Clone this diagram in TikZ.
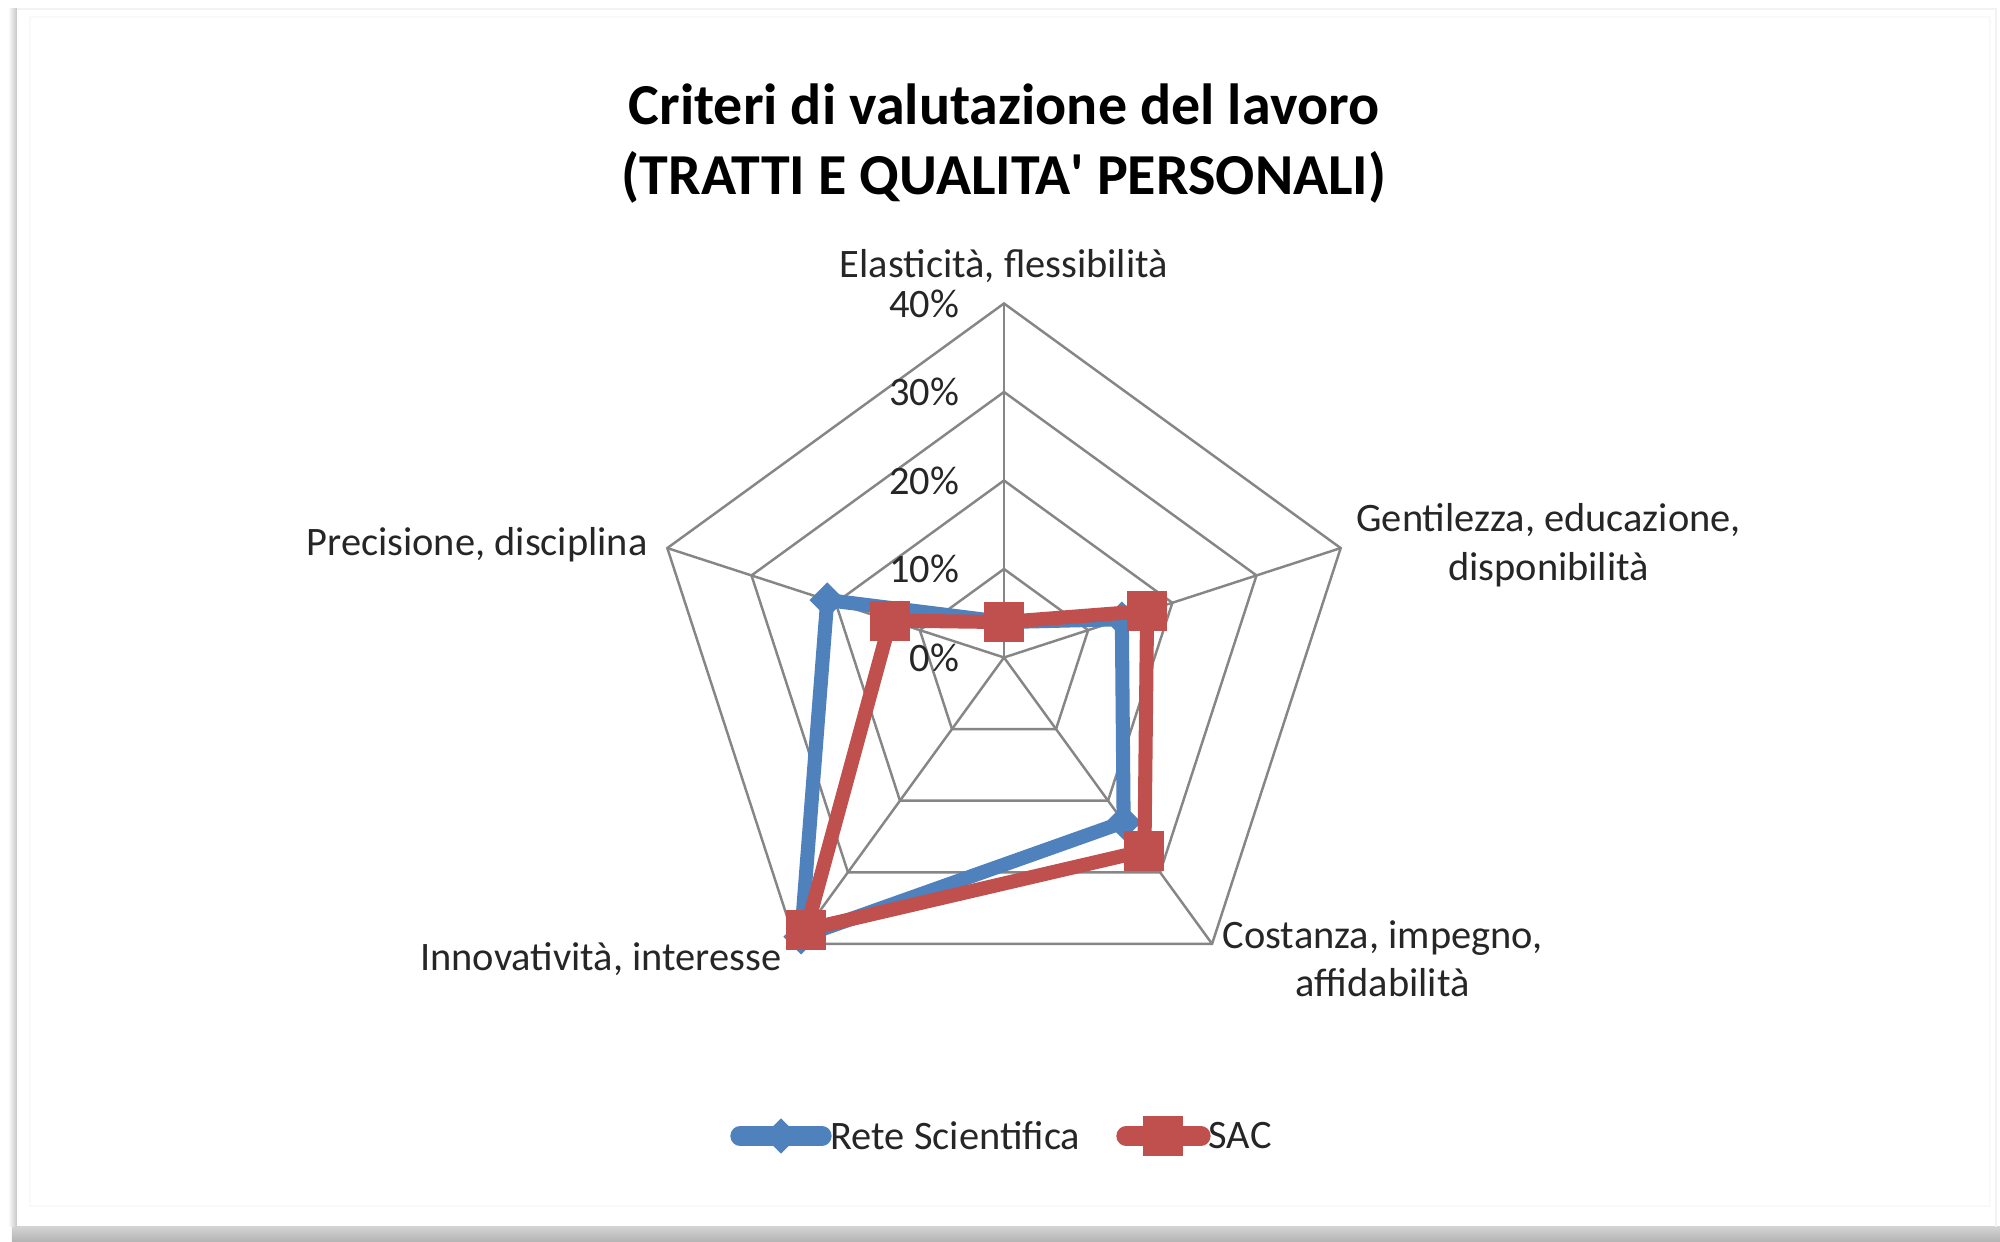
\documentclass[tikz,border=0pt]{standalone}
\usepackage{fontspec}
\setmainfont{Carlito}
\usetikzlibrary{positioning,shapes.geometric}
\usepackage{xcolor}
\definecolor{seriesblue}{HTML}{4F81BD}
\definecolor{seriesred}{HTML}{C0504D}
\definecolor{gridgray}{HTML}{868686}
\definecolor{labelgray}{HTML}{262626}

\begin{document}
\begin{tikzpicture}[font=\fontsize{11.5}{13.8}\selectfont,
  grid/.style={draw=gridgray, line width=0.7pt},
  axislabel/.style={text=labelgray, align=center, inner sep=0pt},
  ticklabel/.style={text=labelgray, anchor=east, inner sep=0pt},
  seriesline/.style={line width=4pt, line join=round},
  bluemark/.style={diamond, fill=seriesblue, minimum size=0.36cm, inner sep=0pt},
  redmark/.style={rectangle, fill=seriesred, minimum size=0.40cm, inner sep=0pt}]

  % page, card and its shadow
  \useasboundingbox (0,0) rectangle (20,12.42);
  \fill[white] (0,0) rectangle (20,12.42);
  \shade[top color=gray!35, bottom color=gray!60] (0.12,0) rectangle (20,0.15);
  \shade[left color=white, right color=gray!45] (0.08,0.15) rectangle (0.17,12.33);
  \draw[gray!10, line width=0.6pt] (0.17,12.33) -- (19.96,12.33) -- (19.96,0.15);
  \draw[gray!5] (0.3,0.36) rectangle (19.9,12.25);

  % title
  \node[font=\fontsize{16.5}{20.1}\selectfont\bfseries, align=center] (title) at (10.04,10.985)
    {Criteri di valutazione del lavoro\\(TRATTI E QUALITA\textquotesingle{} PERSONALI)};

  \begin{scope}[shift={(10.04,5.845)}]
    \coordinate (O) at (0,0);
    % rings and spokes
    \foreach \r in {0.885,1.77,2.655,3.54}
      \draw[grid] (90:\r) -- (18:\r) -- (-54:\r) -- (-126:\r) -- (162:\r) -- cycle;
    \foreach \a/\n in {90/e,18/g,-54/c,-126/i,162/p}
    {
      \coordinate (ax\n) at (\a:3.54);
      \draw[grid] (O) -- (ax\n);
    }

    % scale
    \foreach \k/\v in {0/0,1/10,2/20,3/30,4/40}
      \node[ticklabel] (tick\k) at (-0.44,\k*0.885) {\v\%};

    % axis labels
    \node[axislabel] (labe) [above=0.2cm of axe] {Elasticità, flessibilità};
    \node[axislabel] (labg) [right=0.15cm of axg, yshift=0.03cm] {Gentilezza, educazione,\\disponibilità};
    \node[axislabel] (labc) [right=0.1cm of axc, yshift=-0.15cm] {Costanza, impegno,\\affidabilità};
    \node[axislabel] (labi) [left=0.14cm of axi, yshift=-0.15cm] {Innovatività, interesse};
    \node[axislabel] (labp) [left=0.19cm of axp, yshift=0.03cm] {Precisione, disciplina};

    % data (1% = 0.0885cm)
    \foreach \a/\n/\v in {90/e/4,18/g/14,-54/c/23,-126/i/39,162/p/21}
      \coordinate (rs\n) at (\a:\v*0.0885);
    \foreach \a/\n/\v in {90/e/4,18/g/17,-54/c/27,-126/i/38,162/p/13.5}
      \coordinate (sac\n) at (\a:\v*0.0885);

    \draw[seriesline, seriesblue] (rse) -- (rsg) -- (rsc) -- (rsi) -- (rsp) -- cycle;
    \foreach \n in {e,g,c,i,p}
      \node[bluemark] (rsm\n) at (rs\n) {};
    \draw[seriesline, seriesred] (sace) -- (sacg) -- (sacc) -- (saci) -- (sacp) -- cycle;
    \foreach \n in {e,g,c,i,p}
      \node[redmark] (sacm\n) at (sac\n) {};
  \end{scope}

  % legend
  \coordinate (legbl) at (7.40,1.06);
  \coordinate (legbr) at (8.22,1.06);
  \draw[seriesline, seriesblue, line width=5.5pt, line cap=round] (legbl) -- (legbr);
  \node[bluemark] (legbm) at (7.81,1.06) {};
  \node[text=labelgray, anchor=west, inner sep=0pt] (legbt) at (8.30,1.06) {Rete Scientifica};
  \coordinate (legrl) at (11.26,1.06);
  \coordinate (legrr) at (12.01,1.06);
  \draw[seriesline, seriesred, line width=5.5pt, line cap=round] (legrl) -- (legrr);
  \node[redmark] (legrm) at (11.63,1.06) {};
  \node[text=labelgray, anchor=west, inner sep=0pt] (legrt) at (12.08,1.06) {SAC};
\end{tikzpicture}
\end{document}
